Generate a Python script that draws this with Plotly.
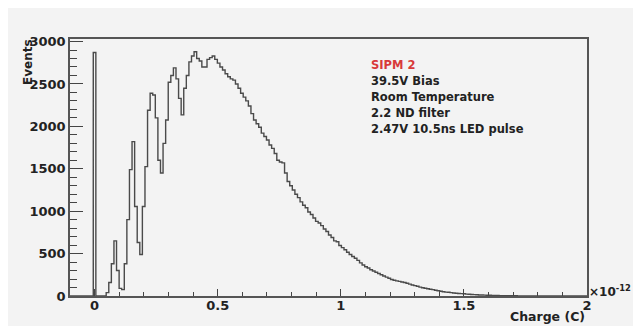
import numpy as np
import plotly.graph_objects as go

# Histogram binning (charge in units of 1e-12 C)
bin_low = -0.1
bin_width = 0.0105
counts = [
    0, 0, 0, 0, 0, 0, 0, 0, 0, 2870,                                   # 0-9
    0, 0, 0, 0, 40, 160, 380, 650, 300, 90,                            # 10-19
    75, 380, 900, 1490, 1820, 1055, 630, 490, 1055, 1525,              # 20-29
    2190, 2390, 2370, 2100, 1600, 1450, 1800, 2075, 2520, 2600,        # 30-39
    2690, 2560, 2330, 2135, 2450, 2600, 2760, 2830, 2880, 2800,        # 40-49
    2770, 2700, 2700, 2790, 2810, 2830, 2790, 2745, 2700, 2665,        # 50-59
    2620, 2585, 2560, 2545, 2500, 2450, 2390, 2345, 2300, 2240,        # 60-69
    2150, 2075, 2030, 1990, 1920, 1880, 1840, 1780, 1740, 1680,        # 70-79
    1600, 1580, 1570, 1450, 1350, 1300, 1250, 1200, 1160, 1110,        # 80-89
    1070, 1040, 990, 960, 920, 880, 860, 830, 790, 760,                # 90-99
    720, 690, 650, 640, 595, 570, 545, 515, 490, 465,                  # 100-109
    445, 420, 390, 365, 345, 330, 310, 295, 280, 265,                  # 110-119
    250, 235, 222, 210, 195, 185, 178, 172, 165, 160,                  # 120-129
    150, 140, 130, 122, 115, 105, 98, 92, 85, 80,                      # 130-139
    75, 68, 62, 56, 50, 46, 45, 40, 36, 33,                            # 140-149
    30, 28, 26, 22, 20, 18, 16, 14, 12, 11,                            # 150-159
    10, 9, 8, 7, 6, 6, 5, 5, 4, 4,                                     # 160-169
    3, 3, 3, 2, 2, 2, 2, 1, 1, 1,                                      # 170-179
    1, 1, 0, 1, 0, 1, 0, 0, 1, 0,                                      # 180-189
    0, 0, 0, 0, 0, 0, 0, 0, 0, 0,                                      # 190-199
]
x_tick_vals = [0, 0.5, 1, 1.5, 2]
x_tick_text = ["0", "0.5", "1", "1.5", "2"]
y_tick_vals = [0, 500, 1000, 1500, 2000, 2500, 3000]
y_tick_text = ["0", "500", "1000", "1500", "2000", "2500", "3000"]
info_title = "SIPM 2"
info_lines = ["39.5V Bias", "Room Temperature", "2.2 ND filter", "2.47V 10.5ns LED pulse"]

edges = bin_low + bin_width * np.arange(len(counts) + 1)
xs = list(edges)
ys = list(counts) + [counts[-1]]

FONT = "DejaVu Sans"
BG = "#f3f3f3"
OFF = 8  # page body margin offset
W, H = 641 - OFF, 326 - OFF
# plot area in screenshot pixels
L, R, T, B = 70, 587, 39, 296.5
ml, mr, mt, mb = L - OFF, W - (R - OFF), T - OFF, H - (B - OFF)

fig = go.Figure()
fig.add_trace(go.Scatter(
    x=xs, y=ys, mode="lines", line=dict(shape="hv", color="#4a4a4a", width=1.4),
    hoverinfo="skip", showlegend=False,
))

fig.update_layout(
    width=W, height=H,
    margin=dict(l=ml, r=mr, t=mt, b=mb, autoexpand=False),
    paper_bgcolor=BG, plot_bgcolor=BG,
    font=dict(family=FONT, size=12, color="#222222"),
    showlegend=False,
)
fig.update_xaxes(
    range=[-0.1, 2.0], showgrid=False, zeroline=False, automargin=False,
    tickvals=x_tick_vals, ticktext=["<b>%s</b>" % t for t in x_tick_text],
    ticks="inside", ticklen=7, tickwidth=1, tickcolor="#444444",
    minor=dict(ticks="inside", ticklen=4, dtick=0.1, tick0=0, tickcolor="#444444", showgrid=False),
    showline=True, linecolor="#555555", linewidth=1.5, mirror=True,
    tickfont=dict(family=FONT, size=13, color="#222222"),
    ticklabelstandoff=-3,
)
fig.update_yaxes(
    range=[0, 3030], showgrid=False, zeroline=False, automargin=False,
    tickvals=y_tick_vals, ticktext=["<b>%s</b>" % t for t in y_tick_text],
    ticks="inside", ticklen=13, tickwidth=1, tickcolor="#444444",
    minor=dict(ticks="inside", ticklen=7, dtick=100, tick0=0, tickcolor="#444444", showgrid=False),
    showline=True, linecolor="#555555", linewidth=1.5, mirror=True,
    tickfont=dict(family=FONT, size=13, color="#222222"),
)


def px2paper(x, y):
    return (x - L) / (R - L), (B - y) / (B - T)


annos = []
ax, ay = px2paper(369, 65)
annos.append(dict(text="<b>%s</b>" % info_title, x=ax, y=ay, xref="paper", yref="paper",
                  showarrow=False, xanchor="left", yanchor="middle",
                  font=dict(family=FONT, size=11.5, color="#d83a3a")))
for i, t in enumerate(info_lines):
    ax, ay = px2paper(369, 81.5 + 16 * i)
    annos.append(dict(text="<b>%s</b>" % t, x=ax, y=ay, xref="paper", yref="paper",
                      showarrow=False, xanchor="left", yanchor="middle",
                      font=dict(family=FONT, size=11.5, color="#222222")))

ex, ey = px2paper(28, 37)
annos.append(dict(text="<b>Events</b>", x=ex, y=ey, xref="paper", yref="paper",
                  showarrow=False, textangle=-90, xanchor="center", yanchor="top",
                  font=dict(family=FONT, size=12, color="#222222")))
cx, cy = px2paper(587, 317)
annos.append(dict(text="<b>Charge (C)</b>", x=cx, y=cy, xref="paper", yref="paper",
                  showarrow=False, xanchor="right", yanchor="middle",
                  font=dict(family=FONT, size=12.5, color="#222222")))
mx, my = px2paper(587, 291)
annos.append(dict(text="<b>×10<sup>-12</sup></b>", x=mx, y=my, xref="paper", yref="paper",
                  showarrow=False, xanchor="left", yanchor="middle",
                  font=dict(family=FONT, size=12, color="#222222")))
fig.update_layout(annotations=annos)

fig.write_html("out.html")
